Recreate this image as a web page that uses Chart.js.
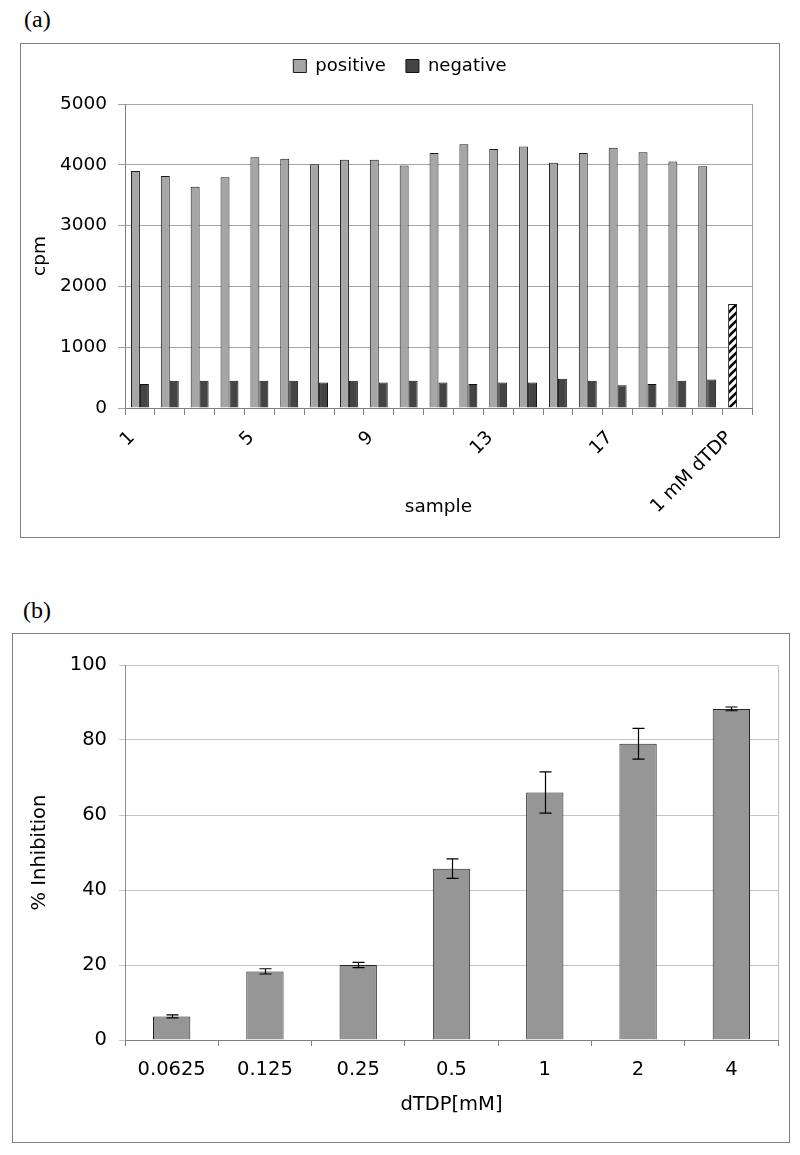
<!DOCTYPE html>
<html>
<head>
<meta charset="utf-8">
<script src="https://cdn.jsdelivr.net/npm/chart.js@4.4.0/dist/chart.umd.min.js"></script>
<style>
  body { margin: 0; background: #fff; width: 800px; height: 1155px; position: relative; }
  .tag { position: absolute; font-family: "Liberation Serif", "Times New Roman", serif; font-size: 24px; color: #000; line-height: 1; }
  .panel { position: absolute; border: 1px solid #808080; background: #fff; }
  .panel canvas { display: block; }
</style>
</head>
<body>
<div class="tag" style="left:24px; top:7px;">(a)</div>
<div class="panel" style="left:20px; top:43px; width:758px; height:493px;">
  <canvas id="chartA" width="758" height="493"></canvas>
</div>
<div class="tag" style="left:23px; top:598px;">(b)</div>
<div class="panel" style="left:12px; top:633px; width:776px; height:508px;">
  <canvas id="chartB" width="776" height="508"></canvas>
</div>

<script>
// ---- panel (a) data ----
const sampleLabels = ['1', '2', '3', '4', '5', '6', '7', '8', '9', '10',
                      '11', '12', '13', '14', '15', '16', '17', '18', '19', '20', '1 mM dTDP'];
const positiveCpm = [3900, 3815, 3640, 3795, 4125, 4100, 4010, 4085, 4085, 3990,
                     4195, 4340, 4260, 4300, 4035, 4195, 4280, 4205, 4055, 3975];
const negativeCpm = [395, 450, 450, 450, 450, 450, 420, 450, 420, 450,
                     420, 395, 420, 420, 480, 450, 375, 395, 450, 470];
const dtdpControlCpm = 1710;
const cpmTicks = [0, 1000, 2000, 3000, 4000, 5000];

// ---- panel (b) data ----
const concLabels = ['0.0625', '0.125', '0.25', '0.5', '1', '2', '4'];
const inhibition = [6.3, 18.3, 20.0, 45.7, 66.0, 79.0, 88.3];
const inhibitionErr = [0.4, 0.7, 0.7, 2.6, 5.5, 4.1, 0.5];
const inhibitionTicks = [0, 20, 40, 60, 80, 100];

Chart.defaults.font.family = '"DejaVu Sans", Arial, sans-serif';
Chart.defaults.color = '#000';

// black/white diagonal stripes for the dTDP control bar
function makeHatch() {
    const c = document.createElement('canvas');
    c.width = 8; c.height = 8;
    const g = c.getContext('2d');
    g.fillStyle = '#fff';
    g.fillRect(0, 0, 8, 8);
    g.strokeStyle = '#000';
    g.lineWidth = 2.6;
    g.beginPath();
    g.moveTo(-2, 10); g.lineTo(10, -2);
    g.moveTo(-6, 6); g.lineTo(6, -6);
    g.moveTo(2, 14); g.lineTo(14, 2);
    g.stroke();
    return g.createPattern(c, 'repeat');
}
const hatch = makeHatch();

// right-hand border of the plot area, like the spreadsheet original
const plotFrame = {
    id: 'plotFrame',
    afterDraw(chart, args, opts) {
        const a = chart.chartArea, ctx = chart.ctx;
        ctx.save();
        ctx.strokeStyle = opts.color || '#a0a0a0';
        ctx.lineWidth = 1;
        ctx.beginPath();
        ctx.moveTo(Math.round(a.right) + 0.5, a.top);
        ctx.lineTo(Math.round(a.right) + 0.5, a.bottom);
        ctx.stroke();
        ctx.restore();
    }
};

// +/- error bars drawn through the y scale
const errorBars = {
    id: 'errorBars',
    afterDatasetsDraw(chart, args, opts) {
        if (!opts.errors) return;
        const ctx = chart.ctx;
        const y = chart.scales.y;
        const meta = chart.getDatasetMeta(0);
        const values = chart.data.datasets[0].data;
        ctx.save();
        ctx.strokeStyle = '#000';
        ctx.lineWidth = 1.2;
        meta.data.forEach(function (bar, i) {
            const e = opts.errors[i];
            const yTop = y.getPixelForValue(values[i] + e);
            const yBot = y.getPixelForValue(values[i] - e);
            const x = Math.round(bar.x) + 0.5;
            ctx.beginPath();
            ctx.moveTo(x, yTop); ctx.lineTo(x, yBot);
            ctx.moveTo(x - 6, yTop); ctx.lineTo(x + 6, yTop);
            ctx.moveTo(x - 6, yBot); ctx.lineTo(x + 6, yBot);
            ctx.stroke();
        });
        ctx.restore();
    }
};

function plainNumber(v) { return String(v); }

// ---- chart (a) ----
new Chart(document.getElementById('chartA'), {
    type: 'bar',
    data: {
        labels: sampleLabels,
        datasets: [{
            label: 'positive',
            data: positiveCpm.concat([dtdpControlCpm]),
            backgroundColor: function (ctx) {
                return ctx.dataIndex === sampleLabels.length - 1 ? hatch : '#a6a6a6';
            },
            borderColor: '#1a1a1a',
            borderWidth: 1,
            categoryPercentage: 0.6,
            barPercentage: 1.0
        }, {
            label: 'negative',
            data: negativeCpm.concat([null]),
            backgroundColor: '#444444',
            borderColor: '#111111',
            borderWidth: 1,
            categoryPercentage: 0.6,
            barPercentage: 1.0
        }]
    },
    options: {
        responsive: false,
        animation: false,
        devicePixelRatio: 1,
        layout: { padding: { top: -7, right: 0, bottom: 0, left: 0 } },
        plugins: {
            legend: {
                position: 'top',
                labels: {
                    boxWidth: 13,
                    boxHeight: 13,
                    padding: 20,
                    font: { size: 18 }
                }
            },
            // empty spacer between the legend and the plot
            subtitle: { display: true, text: '', weight: 500, font: { size: 10 }, padding: { top: 7, bottom: 0 } },
            tooltip: { enabled: false },
            plotFrame: { color: '#a0a0a0' }
        },
        scales: {
            x: {
                offset: true,
                afterFit: function (scale) { scale.height = 129; },
                grid: { offset: true, drawOnChartArea: false, drawTicks: true, tickLength: 7, color: '#808080' },
                border: { color: '#808080', width: 1 },
                ticks: {
                    autoSkip: false,
                    minRotation: 45,
                    maxRotation: 45,
                    padding: 12,
                    labelOffset: -8,
                    font: { size: 18.5 },
                    callback: function (value, index) {
                        return index % 4 === 0 ? sampleLabels[index] : '';
                    }
                },
                title: { display: true, text: 'sample', font: { size: 18.5 }, padding: { top: 0, bottom: 19 } }
            },
            y: {
                min: 0,
                max: 5000,
                afterFit: function (scale) { scale.width = 104; },
                afterBuildTicks: function (scale) {
                    scale.ticks = cpmTicks.map(function (v) { return { value: v }; });
                },
                grid: { color: '#a6a6a6', tickLength: 7 },
                border: { color: '#808080', width: 1 },
                ticks: { padding: 11, font: { size: 18.5 }, callback: plainNumber },
                title: { display: true, text: 'cpm', font: { size: 18.5 }, padding: { top: 8, bottom: 0 } }
            },
            // empty right-hand margin so the legend stays centred on the panel
            spacer: {
                type: 'linear',
                position: 'right',
                afterFit: function (scale) { scale.width = 27; },
                grid: { display: false },
                ticks: { display: false },
                border: { display: false }
            }
        }
    },
    plugins: [plotFrame]
});

// ---- chart (b) ----
new Chart(document.getElementById('chartB'), {
    type: 'bar',
    data: {
        labels: concLabels,
        datasets: [{
            label: '% Inhibition',
            data: inhibition,
            backgroundColor: '#969696',
            borderColor: '#262626',
            borderWidth: 1,
            categoryPercentage: 1.0,
            barPercentage: 0.4
        }]
    },
    options: {
        responsive: false,
        animation: false,
        devicePixelRatio: 1,
        layout: { padding: { top: 31, right: 11, bottom: 0, left: 0 } },
        plugins: {
            legend: { display: false },
            tooltip: { enabled: false },
            plotFrame: { color: '#c0c0c0' },
            errorBars: { errors: inhibitionErr }
        },
        scales: {
            x: {
                offset: true,
                afterFit: function (scale) { scale.height = 102; },
                grid: { offset: true, drawOnChartArea: false, drawTicks: true, tickLength: 6, color: '#808080' },
                border: { color: '#808080', width: 1 },
                ticks: { padding: 12, font: { size: 19.5 } },
                title: { display: true, text: 'dTDP[mM]', font: { size: 19.5 }, padding: { top: 0, bottom: 25 } }
            },
            y: {
                min: 0,
                max: 100,
                afterFit: function (scale) { scale.width = 112; },
                afterBuildTicks: function (scale) {
                    scale.ticks = inhibitionTicks.map(function (v) { return { value: v }; });
                },
                grid: { color: '#c4c4c4', tickLength: 6 },
                border: { color: '#8c8c8c', width: 1 },
                ticks: { padding: 12, font: { size: 19.5 }, callback: plainNumber },
                title: { display: true, text: '% Inhibition', font: { size: 19.5 }, padding: { top: 15, bottom: 0 } }
            }
        }
    },
    plugins: [plotFrame, errorBars]
});
</script>
</body>
</html>
